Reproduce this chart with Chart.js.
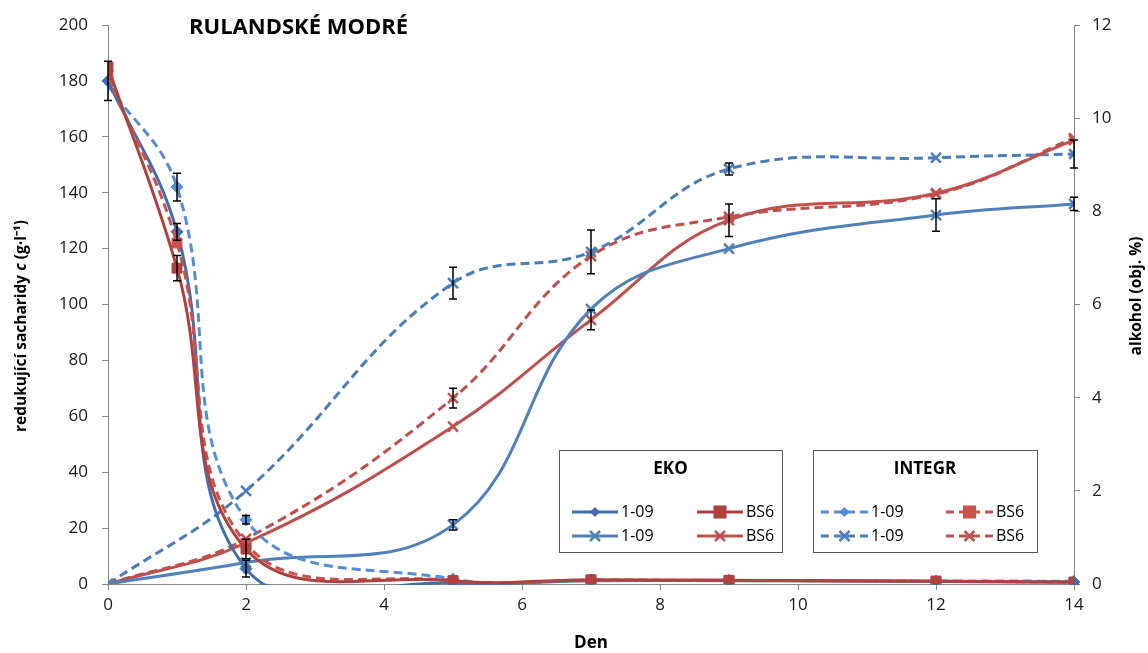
<!DOCTYPE html>
<html><head><meta charset="utf-8">
<script src="https://cdn.jsdelivr.net/npm/chart.js@4/dist/chart.umd.min.js"></script>
<style>html,body{margin:0;padding:0;background:#fff}#wrap{width:1148px;height:653px;position:relative}</style>
</head><body><div id="wrap"><canvas id="c" width="1148" height="653"></canvas></div>
<script>
// ---- data ----
const sugarDays = [0, 1, 2, 5, 7, 9, 12, 14];
const sugarEko109 = [180, 126, 5.5, 0.4, 1.2, 1.2, 0.9, 0.7];
const sugarEkoBS6 = [185, 113, 12.5, 1.2, 1.5, 1.3, 1.0, 0.6];
const sugarInt109 = [178.5, 142, 23, 1.8, 1.3, 1.3, 1.1, 1.0];
const sugarIntBS6 = [182, 122, 14.5, 1.2, 1.4, 1.3, 1.0, 0.7];
const errSugarEko109 = [7, 3, 3, 0, 0, 0, 0, 0];
const errSugarEkoBS6 = [0, 4.5, 3.5, 0, 0, 0, 0, 0];
const errSugarInt109 = [0, 5, 1.5, 0, 0, 0, 0, 0];
const errSugarIntBS6 = [0, 0, 0, 0, 0, 0, 0, 0];

const alcDays = [0, 2, 5, 7, 9, 12, 14];
const alcEko109 = [0, 0.46, 1.27, 5.9, 7.2, 7.92, 8.16];
const alcEkoBS6 = [0, 0.88, 3.38, 5.67, 7.81, 8.39, 9.53];
const alcInt109 = [0, 2.0, 6.46, 7.13, 8.91, 9.15, 9.23];
const alcIntBS6 = [0, 0.97, 3.99, 7.04, 7.88, 8.37, 9.57];
const errAlcEko109 = [0, 0, 0.11, 0, 0, 0.35, 0.14];
const errAlcEkoBS6 = [0, 0, 0, 0.21, 0.35, 0, 0];
const errAlcInt109 = [0, 0, 0.34, 0.47, 0.13, 0, 0.3];
const errAlcIntBS6 = [0, 0, 0.21, 0, 0, 0, 0];

const xTicks = [0, 2, 4, 6, 8, 10, 12, 14];
const chartTitle = 'RULANDSKÉ MODRÉ';
const xTitle = 'Den';
const yTitleParts = ['redukující sacharidy ', 'c', ' (g·l⁻¹)'];
const y2Title = 'alkohol (obj. %)';
const legendLabel109 = '1-09';
const legendLabelBS6 = 'BS6';

// ---- style ----
const FONT = "'Open Sans', sans-serif";
const C = {
  ekoSug109: '#3f6fb0', ekoSugBS6: '#b0413e',
  ekoAlc109: '#4f81bd', ekoAlcBS6: '#c0504d',
  intSug109: '#558ed5', intSugBS6: '#c9524f',
  intAlc109: '#4a7ebb', intAlcBS6: '#c0504d'
};
const DASH = [9, 5];
const AX = '#868686';

function pts(xs, ys) { return xs.map((x, i) => ({x: x, y: ys[i]})); }

function ds(label, xs, ys, errs, color, dashed, marker, axis, extra) {
  const r = marker === 'rect' ? 7 : (marker === 'rectRot' ? 6 : 7);
  return Object.assign({
    label: label, data: pts(xs, ys), errs: errs, yAxisID: axis,
    borderColor: color, backgroundColor: color, borderWidth: 3,
    borderDash: dashed ? DASH : [], tension: 0.4, fill: false,
    capBezierPoints: false,
    pointStyle: marker, pointRadius: r, pointHoverRadius: r,
    pointBackgroundColor: color, pointBorderColor: color,
    pointBorderWidth: marker === 'crossRot' ? 2.5 : 1
  }, extra || {});
}

const datasets = [
  ds('EKO BS6 sugar', sugarDays, sugarEkoBS6, errSugarEkoBS6, C.ekoSugBS6, false, 'rect', 'y'),
  ds('INTEGR BS6 sugar', sugarDays, sugarIntBS6, errSugarIntBS6, C.intSugBS6, true, 'rect', 'y'),
  ds('EKO 1-09 sugar', sugarDays, sugarEko109, errSugarEko109, C.ekoSug109, false, 'rectRot', 'y', {clip: {left: 10, right: 10, top: 10, bottom: 1}}),
  ds('INTEGR 1-09 sugar', sugarDays, sugarInt109, errSugarInt109, C.intSug109, true, 'rectRot', 'y'),
  ds('EKO 1-09 alc', alcDays, alcEko109, errAlcEko109, C.ekoAlc109, false, 'crossRot', 'y2'),
  ds('EKO BS6 alc', alcDays, alcEkoBS6, errAlcEkoBS6, C.ekoAlcBS6, false, 'crossRot', 'y2'),
  ds('INTEGR 1-09 alc', alcDays, alcInt109, errAlcInt109, C.intAlc109, true, 'crossRot', 'y2'),
  ds('INTEGR BS6 alc', alcDays, alcIntBS6, errAlcIntBS6, C.intAlcBS6, true, 'crossRot', 'y2')
];

function drawMarker(ctx, style, x, y, color) {
  ctx.save();
  ctx.fillStyle = color; ctx.strokeStyle = color; ctx.setLineDash([]);
  if (style === 'rect') { ctx.fillRect(x - 6.5, y - 6.5, 13, 13); }
  else if (style === 'rectRot') {
    ctx.beginPath(); ctx.moveTo(x, y - 5); ctx.lineTo(x + 5, y); ctx.lineTo(x, y + 5); ctx.lineTo(x - 5, y); ctx.closePath(); ctx.fill();
  } else {
    ctx.lineWidth = 2.5; ctx.beginPath();
    ctx.moveTo(x - 5, y - 5); ctx.lineTo(x + 5, y + 5); ctx.moveTo(x + 5, y - 5); ctx.lineTo(x - 5, y + 5); ctx.stroke();
  }
  ctx.restore();
}

const decor = {
  id: 'decor',
  afterDatasetsDraw(chart) {
    const ctx = chart.ctx;
    const xs = chart.scales.x;
    // error bars
    ctx.save();
    ctx.strokeStyle = '#000'; ctx.lineWidth = 1.5; ctx.setLineDash([]);
    chart.data.datasets.forEach(d => {
      const sc = chart.scales[d.yAxisID];
      d.data.forEach((p, i) => {
        const e = d.errs[i];
        if (!e) return;
        const px = xs.getPixelForValue(p.x);
        const a = sc.getPixelForValue(p.y - e), b = sc.getPixelForValue(p.y + e);
        ctx.beginPath();
        ctx.moveTo(px, a); ctx.lineTo(px, b);
        ctx.moveTo(px - 4, a); ctx.lineTo(px + 4, a);
        ctx.moveTo(px - 4, b); ctx.lineTo(px + 4, b);
        ctx.stroke();
      });
    });
    ctx.restore();
  },
  afterDraw(chart) {
    const ctx = chart.ctx;
    const area = chart.chartArea;
    ctx.save();
    ctx.fillStyle = '#000';
    // chart title
    ctx.font = 'bold 22px ' + FONT; ctx.textBaseline = 'middle'; ctx.textAlign = 'left';
    ctx.fillText(chartTitle, 189, 28);
    // x title
    ctx.font = 'bold 17px ' + FONT; ctx.textAlign = 'center';
    ctx.fillText(xTitle, (area.left + area.right) / 2, 643);
    // left y title with italic c
    ctx.save();
    ctx.translate(22, 326); ctx.rotate(-Math.PI / 2);
    const f1 = 'bold 15.5px ' + FONT, f2 = 'italic bold 15.5px ' + FONT;
    ctx.font = f1; const w0 = ctx.measureText(yTitleParts[0]).width, w2 = ctx.measureText(yTitleParts[2]).width;
    ctx.font = f2; const w1 = ctx.measureText(yTitleParts[1]).width;
    let sx = -(w0 + w1 + w2) / 2;
    ctx.textAlign = 'left';
    ctx.font = f1; ctx.fillText(yTitleParts[0], sx, 0); sx += w0;
    ctx.font = f2; ctx.fillText(yTitleParts[1], sx, 0); sx += w1;
    ctx.font = f1; ctx.fillText(yTitleParts[2], sx, 0);
    ctx.restore();
    // right y title
    ctx.save();
    ctx.translate(1137, 296); ctx.rotate(-Math.PI / 2);
    ctx.font = 'bold 15.5px ' + FONT; ctx.textAlign = 'center';
    ctx.fillText(y2Title, 0, 0);
    ctx.restore();
    // legends
    function box(x0, y0, x1, y1, title, items) {
      ctx.save();
      ctx.fillStyle = '#fff'; ctx.fillRect(x0, y0, x1 - x0, y1 - y0);
      ctx.strokeStyle = '#595959'; ctx.lineWidth = 1; ctx.setLineDash([]);
      ctx.strokeRect(x0 + 0.5, y0 + 0.5, x1 - x0, y1 - y0);
      ctx.fillStyle = '#000'; ctx.font = 'bold 17px ' + FONT; ctx.textAlign = 'center'; ctx.textBaseline = 'middle';
      ctx.fillText(title, (x0 + x1) / 2, y0 + 19);
      items.forEach(it => {
        ctx.strokeStyle = it.color; ctx.lineWidth = 3; ctx.setLineDash(it.dashed ? [8, 5] : []);
        ctx.beginPath(); ctx.moveTo(it.l1, it.y); ctx.lineTo(it.l2, it.y); ctx.stroke();
        drawMarker(ctx, it.marker, (it.l1 + it.l2) / 2, it.y, it.color);
        ctx.fillStyle = '#000'; ctx.font = '16px ' + FONT; ctx.textAlign = 'left';
        ctx.fillText(it.text, it.l2 + 3, it.y);
      });
      ctx.restore();
    }
    box(559, 450, 782, 552, 'EKO', [
      {l1: 572, l2: 618, y: 512, color: C.ekoSug109, dashed: false, marker: 'rectRot', text: legendLabel109},
      {l1: 697, l2: 743, y: 512, color: C.ekoSugBS6, dashed: false, marker: 'rect', text: legendLabelBS6},
      {l1: 572, l2: 618, y: 536, color: C.ekoAlc109, dashed: false, marker: 'crossRot', text: legendLabel109},
      {l1: 697, l2: 743, y: 536, color: C.ekoAlcBS6, dashed: false, marker: 'crossRot', text: legendLabelBS6}
    ]);
    box(813, 450, 1037, 552, 'INTEGR', [
      {l1: 821, l2: 868, y: 512, color: C.intSug109, dashed: true, marker: 'rectRot', text: legendLabel109},
      {l1: 946, l2: 993, y: 512, color: C.intSugBS6, dashed: true, marker: 'rect', text: legendLabelBS6},
      {l1: 821, l2: 868, y: 536, color: C.intAlc109, dashed: true, marker: 'crossRot', text: legendLabel109},
      {l1: 946, l2: 993, y: 536, color: C.intAlcBS6, dashed: true, marker: 'crossRot', text: legendLabelBS6}
    ]);
    ctx.restore();
  }
};

const tickFont = {family: FONT, size: 17};
new Chart(document.getElementById('c'), {
  type: 'line',
  data: {datasets: datasets},
  options: {
    responsive: false, animation: false, events: [],
    layout: {padding: {top: 25, left: 0, right: 0, bottom: 0}},
    plugins: {legend: {display: false}, tooltip: {enabled: false}, title: {display: false}},
    scales: {
      x: {
        type: 'linear', min: 0, max: 14,
        afterBuildTicks: s => { s.ticks = xTicks.map(v => ({value: v})); },
        afterFit: s => { s.height = 69; },
        ticks: {font: tickFont, color: '#1a1a1a', padding: 5, maxRotation: 0},
        grid: {drawOnChartArea: false, drawTicks: true, tickLength: 6, color: AX},
        border: {color: AX, width: 1}
      },
      y: {
        position: 'left', min: 0, max: 200,
        afterFit: s => { s.width = 108; },
        ticks: {stepSize: 20, font: tickFont, color: '#1a1a1a', padding: 14},
        grid: {drawOnChartArea: false, drawTicks: true, tickLength: 6, color: AX},
        border: {color: AX, width: 1}
      },
      y2: {
        position: 'right', min: 0, max: 12,
        afterFit: s => { s.width = 74; },
        ticks: {stepSize: 2, font: tickFont, color: '#1a1a1a', padding: 12},
        grid: {drawOnChartArea: false, drawTicks: true, tickLength: 6, color: AX},
        border: {color: AX, width: 1}
      }
    }
  },
  plugins: [decor]
});
</script>
</body></html>
